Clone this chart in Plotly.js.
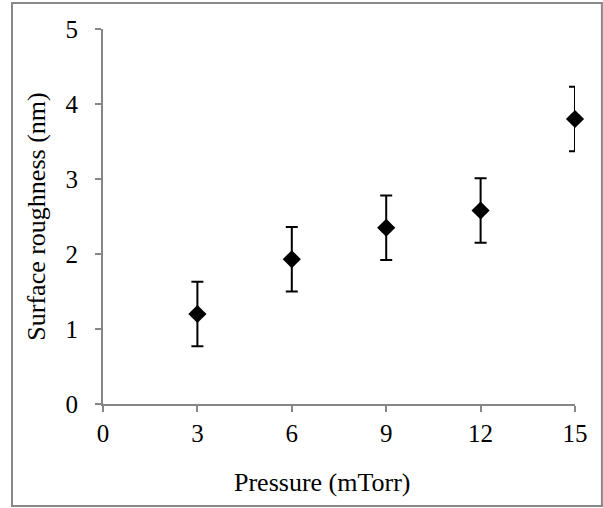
<!DOCTYPE html>
<html>
<head>
<meta charset="utf-8">
<script src="https://cdn.plot.ly/plotly-3.0.1.min.js"></script>
<style>
html,body{margin:0;padding:0;background:#fff;}
#chart{width:603px;height:508px;}
</style>
</head>
<body>
<div id="chart"></div>
<script>
var pressure = [3, 6, 9, 12, 15];
var roughness = [1.20, 1.93, 2.35, 2.58, 3.80];
var errorNm = [0.43, 0.43, 0.43, 0.43, 0.43];
var xTicks = [0, 3, 6, 9, 12, 15];
var yTicks = [0, 1, 2, 3, 4, 5];
var xTitle = 'Pressure (mTorr)';
var yTitle = 'Surface roughness (nm)';

var font = "'Liberation Serif', 'Times New Roman', serif";
var axisColor = '#868686';

var trace = {
  x: pressure,
  y: roughness,
  type: 'scatter',
  mode: 'markers',
  cliponaxis: false,
  marker: {symbol: 'diamond', size: 14, color: '#000'},
  error_y: {type: 'data', array: errorNm, visible: true, color: '#000', thickness: 2, width: 6},
  showlegend: false,
  hoverinfo: 'x+y'
};

var layout = {
  width: 603, height: 508,
  margin: {l: 103, r: 28, t: 29, b: 104},
  paper_bgcolor: '#fff', plot_bgcolor: '#fff',
  font: {family: font, color: '#000', size: 25},
  xaxis: {
    range: [0, 15], tickvals: xTicks, ticktext: xTicks.map(String),
    showgrid: false, zeroline: false, showline: true, linecolor: axisColor, linewidth: 2,
    ticks: 'outside', ticklen: 6, tickwidth: 2, tickcolor: axisColor,
    ticklabelstandoff: 0,
    tickfont: {family: font, size: 25, color: '#000'}
  },
  yaxis: {
    range: [0, 5], tickvals: yTicks, ticktext: yTicks.map(String),
    showgrid: false, zeroline: false, showline: true, linecolor: axisColor, linewidth: 2,
    ticks: 'outside', ticklen: 6, tickwidth: 2, tickcolor: axisColor,
    ticklabelstandoff: 12,
    tickfont: {family: font, size: 25, color: '#000'},
    title: {text: yTitle, font: {family: font, size: 26, color: '#000'}, standoff: 12}
  },
  annotations: [{
    text: xTitle, xref: 'paper', yref: 'paper', x: 0.464, y: -0.208,
    xanchor: 'center', yanchor: 'middle', showarrow: false,
    font: {family: font, size: 26, color: '#000'}
  }],
  shapes: [{
    type: 'rect', xref: 'paper', yref: 'paper',
    x0: -0.1928, x1: 1.057, y0: -0.272, y1: 1.0693,
    line: {color: '#888', width: 2}, fillcolor: 'rgba(0,0,0,0)', layer: 'below'
  }]
};

Plotly.newPlot('chart', [trace], layout, {displayModeBar: false, staticPlot: true});
</script>
</body>
</html>
